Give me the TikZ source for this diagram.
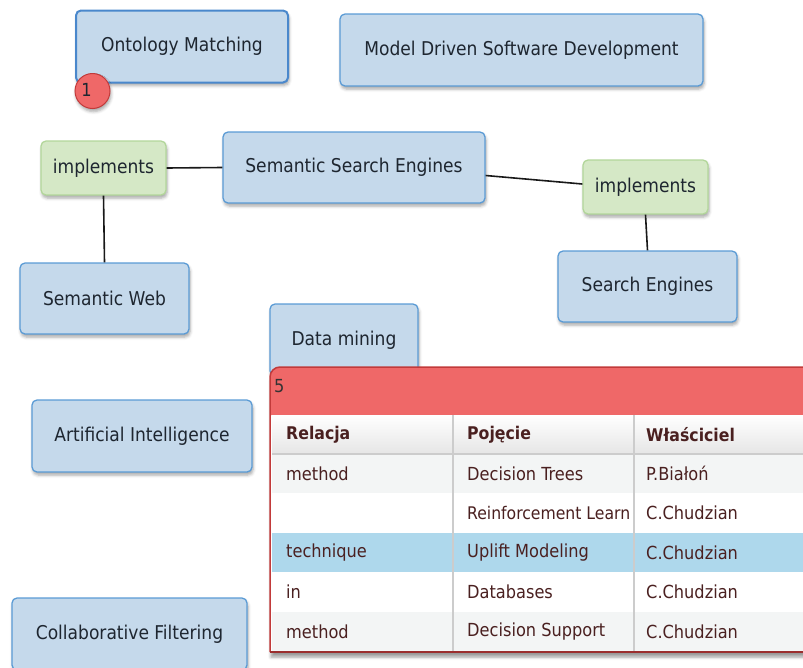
\documentclass[tikz,border=0pt]{standalone}
\usepackage{fontspec}
\setmainfont{DejaVu Sans Condensed}
\usetikzlibrary{shadows.blur}
\definecolor{boxfill}{HTML}{C5D9EB}
\definecolor{boxline}{HTML}{5B9BD5}
\definecolor{boxlinedark}{HTML}{4A88CC}
\definecolor{greenfill}{HTML}{D5E8C6}
\definecolor{greenline}{HTML}{B2D69A}
\definecolor{redfill}{HTML}{EF6868}
\definecolor{redline}{HTML}{C23A3A}
\definecolor{rowgray}{HTML}{F3F5F5}
\definecolor{rowblue}{HTML}{AED8EC}
\definecolor{gridgray}{HTML}{CCCCCC}
\definecolor{tabtext}{HTML}{4A2020}
\definecolor{boxtext}{HTML}{1E2630}
\begin{document}
\begin{tikzpicture}[x=1pt,y=-1pt,
 concept/.style={draw=boxline, line width=1.3pt, fill=boxfill, rounded corners=5pt, inner sep=0pt,
   text=boxtext, font=\fontsize{19}{22}\selectfont,
   blur shadow={shadow xshift=1pt, shadow yshift=-3pt, shadow opacity=35, shadow blur radius=3pt}},
 rel/.style={concept, draw=greenline, fill=greenfill},
 link/.style={line width=1.6pt, draw=black!90},
 cell/.style={anchor=west, inner sep=0pt, text=tabtext, font=\fontsize{18}{21}\selectfont},
 headcell/.style={cell, font=\fontsize{17.5}{21}\selectfont\bfseries}]
\useasboundingbox (0,0) rectangle (803,667);

% concept boxes
\node[concept, draw=boxlinedark, line width=2pt, minimum width=212pt, minimum height=72pt] (om) at (182,46.5) {Ontology Matching};
\node[circle, fill=redfill, draw=redline, line width=1pt, minimum size=35pt, inner sep=0pt,
  blur shadow={shadow xshift=1pt, shadow yshift=-3pt, shadow opacity=35, shadow blur radius=3pt}] (badge) at (92.5,91) {};
\node[inner sep=0pt, text=boxtext, font=\fontsize{18}{21}\selectfont] (badgetxt) at (86.5,90) {1};
\node[concept, minimum width=363pt, minimum height=72pt] (mdsd) at (521.5,50) {Model Driven Software Development};
\node[rel, minimum width=125pt, minimum height=54pt] (impl) at (103.5,168) {implements};
\node[concept, minimum width=262pt, minimum height=71pt] (sse) at (354,167.5) {Semantic Search Engines};
\node[rel, minimum width=125pt, minimum height=54pt] (impr) at (645.5,187) {implements};
\node[concept, minimum width=179pt, minimum height=71pt] (se) at (647.5,286.5) {Search Engines};
\node[concept, minimum width=169pt, minimum height=71pt] (sw) at (104.5,298.5) {Semantic Web};
\node[concept, minimum width=148pt, minimum height=72pt] (dm) at (344,340) {Data mining};
\node[concept, minimum width=220pt, minimum height=72pt] (ai) at (142,436) {Artificial Intelligence};
\node[concept, minimum width=235pt, minimum height=72pt] (cf) at (129.5,634) {Collaborative Filtering};

% connectors
\draw[link] (impl.east) -- (sse.west);
\draw[link] (impl.south) -- (sw.north);
\draw[link] ([yshift=-8pt]sse.east) -- ([yshift=3pt]impr.west);
\draw[link] (impr.south) -- (se.north);

% table panel
\path[fill=white, blur shadow={shadow xshift=1pt, shadow yshift=-5pt, shadow opacity=40, shadow blur radius=3pt}]
  (270,652) [rounded corners=10pt] -- (270,367) -- (830,367) [sharp corners] -- (830,652) -- cycle;
\fill[redfill, rounded corners=10pt] (270,415) -- (270,367) -- (830,367) [sharp corners] -- (830,415) -- cycle;
\fill[rowgray] (272,454) rectangle (830,493);
\fill[white] (272,493) rectangle (830,533);
\fill[rowblue] (272,533) rectangle (830,572);
\fill[white] (272,572) rectangle (830,612);
\fill[rowgray] (272,612) rectangle (830,651);
\shade[top color=white, bottom color=black!10] (272,415) rectangle (830,454);
\draw[gridgray, line width=1.5pt] (272,454) -- (830,454);
\draw[gridgray, line width=1.3pt] (453,415) -- (453,651);
\draw[gridgray, line width=1.3pt] (634,415) -- (634,651);
\draw[redline, line width=1.5pt, rounded corners=10pt] (270,652) -- (270,367) -- (830,367);
\draw[redline!80!black, line width=1.5pt] (270,652) -- (830,652);

\node[cell, text=black!80] (tnum) at (274,386) {5};
\node[headcell] (h1) at (286,435) {Relacja};
\node[headcell] (h2) at (467,435) {Pojęcie};
\node[headcell] (h3) at (646,435) {Właściciel};

\node[cell] (r1a) at (286,473.5) {method};
\node[cell] (r1b) at (467,473.5) {Decision Trees};
\node[cell] (r1c) at (646,473.5) {P.Białoń};
\begin{scope}
\clip (454,494) rectangle (633,532);
\node[cell, font=\fontsize{17.4}{21}\selectfont] (r2b) at (467,513) {Reinforcement Learn};
\end{scope}
\node[cell] (r2c) at (646,513) {C.Chudzian};
\node[cell] (r3a) at (286,552.5) {technique};
\node[cell] (r3b) at (467,552.5) {Uplift Modeling};
\node[cell] (r3c) at (646,552.5) {C.Chudzian};
\node[cell] (r4a) at (286,592) {in};
\node[cell] (r4b) at (467,592) {Databases};
\node[cell] (r4c) at (646,592) {C.Chudzian};
\node[cell] (r5a) at (286,631.5) {method};
\node[cell] (r5b) at (467,631.5) {Decision Support};
\node[cell] (r5c) at (646,631.5) {C.Chudzian};
\end{tikzpicture}
\end{document}
